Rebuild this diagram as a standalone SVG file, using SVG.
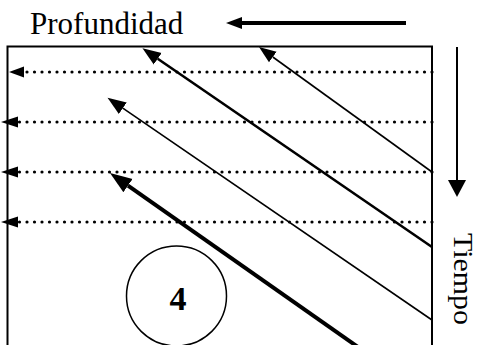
<svg xmlns="http://www.w3.org/2000/svg" width="480" height="345" viewBox="0 0 480 345">
  <style>
    .lbl { font-family: "Liberation Serif", "Times New Roman", serif; fill: #000; }
    .frame { fill: none; stroke: #000; stroke-width: 2; }
    .dots { fill: none; stroke: #000; stroke-width: 3.2; stroke-linecap: round; stroke-dasharray: 0 7.5; }
    .ray { fill: none; stroke: #000; stroke-linecap: butt; }
    .head { fill: #000; }
  </style>
  <defs>
    <!-- arrowheads: base sits at the path end, tip points forward -->
    <marker id="headS" markerUnits="userSpaceOnUse" viewBox="0 -10 24 20" markerWidth="24" markerHeight="20" refX="0" refY="0" orient="auto">
      <path class="head" d="M0,-6.5 L17,0 L0,6.5 Z"/>
    </marker>
    <marker id="headM" markerUnits="userSpaceOnUse" viewBox="0 -10 24 20" markerWidth="24" markerHeight="20" refX="0" refY="0" orient="auto">
      <path class="head" d="M0,-7 L18.5,0 L0,7 Z"/>
    </marker>
    <marker id="headL" markerUnits="userSpaceOnUse" viewBox="0 -10 24 20" markerWidth="24" markerHeight="20" refX="0" refY="0" orient="auto">
      <path class="head" d="M0,-8 L22,0 L0,8 Z"/>
    </marker>
  </defs>

  <!-- axis labels and direction arrows -->
  <g id="depth-label">
    <text class="lbl" x="30" y="34" font-size="31">Profundidad</text>
  </g>
  <g id="depth-arrow">
    <line class="ray" x1="406" y1="23" x2="241" y2="23" stroke-width="4"/>
    <polygon class="head" points="226,23 242,17 242,29"/>
  </g>
  <g id="time-arrow">
    <line class="ray" x1="457" y1="47" x2="457" y2="180" stroke-width="2"/>
    <polygon class="head" points="457,197 448,180 466,180"/>
  </g>
  <g id="time-label">
    <text class="lbl" font-size="28" textLength="92" lengthAdjust="spacingAndGlyphs" transform="translate(453.5,233) rotate(90)">Tiempo</text>
  </g>

  <!-- medium frame -->
  <g id="frame">
    <path class="frame" d="M7.5,350 V46.5 H432 V350"/>
  </g>

  <!-- layer circle -->
  <g id="layer-4">
    <circle cx="176.5" cy="296" r="50" fill="none" stroke="#000" stroke-width="1.5"/>
    <text class="lbl" x="178" y="310" font-size="34" font-weight="bold" text-anchor="middle">4</text>
  </g>

  <!-- connectors -->
  <g id="connectors">
    <!-- dotted horizontal returns -->
    <line class="dots" x1="432" y1="72" x2="25" y2="72"/>
    <polygon class="head" points="9,72 24,66.5 24,77.5"/>
    <line class="dots" x1="432" y1="122" x2="19" y2="122"/>
    <polygon class="head" points="1,122 18,116.5 18,127.5"/>
    <line class="dots" x1="432" y1="172" x2="19" y2="172"/>
    <polygon class="head" points="1,172 18,166.5 18,177.5"/>
    <line class="dots" x1="432" y1="222" x2="19" y2="222"/>
    <polygon class="head" points="1,222 18,216.5 18,227.5"/>

    <!-- diagonal rays -->
    <line class="ray" x1="432" y1="172" x2="272.8" y2="57" stroke-width="1.6" marker-end="url(#headS)"/>
    <line class="ray" x1="432" y1="247" x2="157.7" y2="58.8" stroke-width="2.6" marker-end="url(#headM)"/>
    <line class="ray" x1="432" y1="320" x2="122.8" y2="108.2" stroke-width="1.6" marker-end="url(#headM)"/>
    <line class="ray" x1="363.2" y1="350.7" x2="128" y2="185.6" stroke-width="4" marker-end="url(#headL)"/>
  </g>
</svg>
